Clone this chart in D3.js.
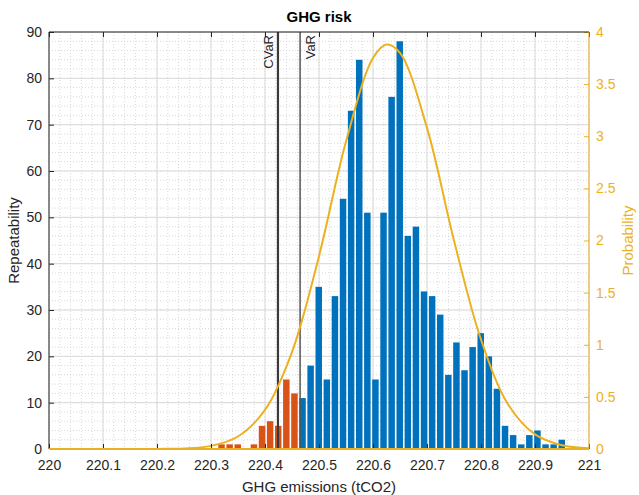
<!DOCTYPE html>
<html>
<head>
<meta charset="utf-8">
<script src="https://cdn.jsdelivr.net/npm/d3@7/dist/d3.min.js"></script>
<style>
  body { margin: 0; background: #fff; }
  svg text { font-family: "Liberation Sans", Arial, sans-serif; }
</style>
</head>
<body>
<div id="chart"></div>
<script>
// histogram bins (GHG emissions, tCO2)
var binStart = 220.312,
    binWidth = 0.015;
var counts = [1, 1, 1, 0, 1, 5, 6, 5, 15, 12, 11, 18, 35, 15, 33, 54, 73, 84, 51, 15, 51, 76,
              88, 46, 48, 34, 33, 29, 16, 23, 17, 22, 25, 20, 13, 5, 3, 1, 3, 4, 1, 1, 2];

// fitted probability curve
var pdfX = [220, 220.1, 220.2, 220.25, 220.3, 220.35, 220.4, 220.45, 220.5, 220.55, 220.6,
            220.625, 220.65, 220.7, 220.75, 220.8, 220.85, 220.9, 220.95, 221];
var pdfY = [0, 0, 0.001, 0.005, 0.03, 0.12, 0.375, 0.93, 1.85, 2.95, 3.75,
            3.88, 3.8, 3.08, 2.0, 1.05, 0.43, 0.14, 0.036, 0.007];

var riskNames = ["CVaR", "VaR"],
    riskValues = [220.424, 220.465];

var xTicks = [220, 220.1, 220.2, 220.3, 220.4, 220.5, 220.6, 220.7, 220.8, 220.9, 221],
    yTicks = [0, 10, 20, 30, 40, 50, 60, 70, 80, 90],
    y2Ticks = [0, 0.5, 1, 1.5, 2, 2.5, 3, 3.5, 4];

var m = {t: 32, r: 50, b: 46, l: 49},
    W = 639, H = 495,
    w = W - m.l - m.r,
    h = H - m.t - m.b;

var colorBlue = "#0072BD",
    colorOrange = "#D95319",
    colorYellow = "#EDB120",
    colorAxis = "#262626";

var svg = d3.select("#chart").append("svg")
    .attr("width", W)
    .attr("height", H);

var g = svg.append("g")
    .attr("transform", "translate(" + m.l + "," + m.t + ")");

var x = d3.scaleLinear().domain([220, 221]).range([0, w]);
var y = d3.scaleLinear().domain([0, 90]).range([h, 0]);
var y2 = d3.scaleLinear().domain([0, 4]).range([h, 0]);

// minor grid (dotted)
var xMinor = d3.range(0, 51).map(function(i){ return 220 + i * 0.02; }),
    yMinor = d3.range(0, 46).map(function(i){ return i * 2; });

g.append("g").selectAll("line")
  .data(xMinor).enter().append("line")
    .attr("x1", function(d){ return x(d); })
    .attr("x2", function(d){ return x(d); })
    .attr("y1", 0).attr("y2", h)
    .attr("stroke", "#cfcfcf")
    .attr("stroke-width", 0.8)
    .attr("stroke-dasharray", "1,2");

g.append("g").selectAll("line")
  .data(yMinor).enter().append("line")
    .attr("x1", 0).attr("x2", w)
    .attr("y1", function(d){ return y(d); })
    .attr("y2", function(d){ return y(d); })
    .attr("stroke", "#cfcfcf")
    .attr("stroke-width", 0.8)
    .attr("stroke-dasharray", "1,2");

// major grid
g.append("g").selectAll("line")
  .data(xTicks).enter().append("line")
    .attr("x1", function(d){ return x(d); })
    .attr("x2", function(d){ return x(d); })
    .attr("y1", 0).attr("y2", h)
    .attr("stroke", "#dadada")
    .attr("stroke-width", 1);

g.append("g").selectAll("line")
  .data(yTicks).enter().append("line")
    .attr("x1", 0).attr("x2", w)
    .attr("y1", function(d){ return y(d); })
    .attr("y2", function(d){ return y(d); })
    .attr("stroke", "#dadada")
    .attr("stroke-width", 1);

// bars, orange below VaR
var bins = counts.map(function(c, i){
  var x0 = binStart + i * binWidth;
  return {x0: x0, x1: x0 + binWidth, mid: x0 + binWidth / 2, n: c};
});

var pitch = x(binStart + binWidth) - x(binStart),
    barW = pitch * 0.8;

g.append("g").selectAll("rect")
  .data(bins.filter(function(d){ return d.n > 0; }))
  .enter().append("rect")
    .attr("x", function(d){ return x(d.mid) - barW / 2; })
    .attr("y", function(d){ return y(d.n); })
    .attr("width", barW)
    .attr("height", function(d){ return h - y(d.n); })
    .attr("fill", function(d){ return d.mid < riskValues[1] ? colorOrange : colorBlue; });

// risk lines
var risk = riskNames.map(function(n, i){ return {name: n, v: riskValues[i]}; });

g.append("g").selectAll("line")
  .data(risk).enter().append("line")
    .attr("x1", function(d){ return x(d.v); })
    .attr("x2", function(d){ return x(d.v); })
    .attr("y1", 0).attr("y2", h)
    .attr("stroke", function(d){ return d.name == "CVaR" ? "#3a3a3a" : "#555"; })
    .attr("stroke-width", function(d){ return d.name == "CVaR" ? 2.2 : 1.5; });

g.append("g").selectAll("text")
  .data(risk).enter().append("text")
    .attr("transform", function(d){
      var dx = d.name == "CVaR" ? -5 : 15;
      return "translate(" + (x(d.v) + dx) + ",3) rotate(-90)";
    })
    .attr("text-anchor", "end")
    .attr("font-size", "13px")
    .attr("fill", colorAxis)
    .text(function(d){ return d.name; });

// probability curve
var curve = d3.line()
  .x(function(d){ return x(d[0]); })
  .y(function(d){ return y2(d[1]); })
  .curve(d3.curveCatmullRom);

g.append("path")
  .datum(pdfX.map(function(v, i){ return [v, pdfY[i]]; }))
  .attr("d", curve)
  .attr("fill", "none")
  .attr("stroke", colorYellow)
  .attr("stroke-width", 2);

// axes
function styleAxis(sel, col){
  sel.select(".domain").remove();
  sel.selectAll("line").attr("stroke", col);
  sel.selectAll("text").attr("fill", col)
    .attr("font-size", "14px")
    .attr("font-family", "Liberation Sans, Arial, sans-serif");
}

g.append("g")
  .attr("transform", "translate(0," + h + ")")
  .call(d3.axisBottom(x).tickValues(xTicks).tickSize(-5).tickPadding(11)
        .tickFormat(function(d){ return String(d); }))
  .call(styleAxis, colorAxis);

g.append("g")
  .call(d3.axisTop(x).tickValues(xTicks).tickSize(-5).tickFormat(""))
  .call(styleAxis, colorAxis);

g.append("g")
  .call(d3.axisLeft(y).tickValues(yTicks).tickSize(-5).tickPadding(7))
  .call(styleAxis, colorAxis);

g.append("g")
  .attr("transform", "translate(" + w + ",0)")
  .call(d3.axisRight(y2).tickValues(y2Ticks).tickSize(-5).tickPadding(7)
        .tickFormat(function(d){ return String(d); }))
  .call(styleAxis, colorYellow);

// frame
g.append("line").attr("x1", 0).attr("x2", w).attr("y1", 0).attr("y2", 0)
  .attr("stroke", colorAxis).attr("stroke-width", 1);
g.append("line").attr("x1", 0).attr("x2", 0).attr("y1", 0).attr("y2", h)
  .attr("stroke", colorAxis).attr("stroke-width", 1);
g.append("line").attr("x1", 0).attr("x2", w).attr("y1", h).attr("y2", h)
  .attr("stroke", colorYellow).attr("stroke-width", 2);
g.append("line").attr("x1", w).attr("x2", w).attr("y1", 0).attr("y2", h)
  .attr("stroke", colorYellow).attr("stroke-width", 1);

// labels
svg.append("text")
  .attr("x", m.l + w / 2).attr("y", 22)
  .attr("text-anchor", "middle")
  .attr("font-size", "15px")
  .attr("font-weight", "bold")
  .attr("fill", "#000")
  .text("GHG risk");

svg.append("text")
  .attr("x", m.l + w / 2).attr("y", H - 3)
  .attr("text-anchor", "middle")
  .attr("font-size", "15px")
  .attr("fill", colorAxis)
  .text("GHG emissions (tCO2)");

svg.append("text")
  .attr("transform", "translate(19," + (m.t + h / 2) + ") rotate(-90)")
  .attr("text-anchor", "middle")
  .attr("font-size", "15px")
  .attr("fill", colorAxis)
  .text("Repeatability");

svg.append("text")
  .attr("transform", "translate(633," + (m.t + h / 2) + ") rotate(-90)")
  .attr("text-anchor", "middle")
  .attr("font-size", "15px")
  .attr("fill", colorYellow)
  .text("Probability");
</script>
</body>
</html>
